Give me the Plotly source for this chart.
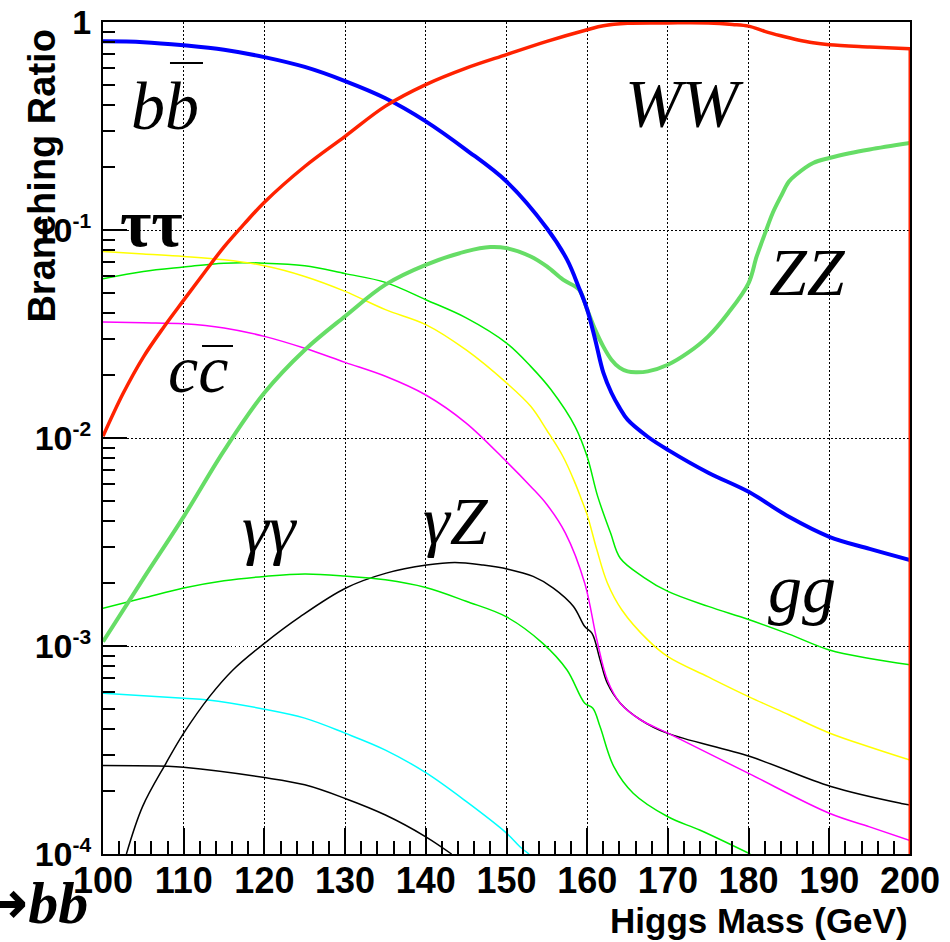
import plotly.graph_objects as go

# Higgs boson branching ratios versus mass (GeV)
mass_bb = [100, 105, 110, 115, 120, 125, 130, 135, 140, 145, 150, 155, 157.5, 159, 160, 161, 162, 163, 164, 165, 167.5, 170, 175, 180, 185, 190, 195, 200]
br_bb = [0.807, 0.80, 0.773, 0.736, 0.678, 0.608, 0.52, 0.43, 0.333, 0.243, 0.171, 0.102, 0.072, 0.0525, 0.0414, 0.0296, 0.0206, 0.0165, 0.0140, 0.01225, 0.01014, 0.00877, 0.00681, 0.00551, 0.00418, 0.00335, 0.00293, 0.00259]

mass_ww = [100, 102.5, 105, 107.5, 110, 112.5, 115, 117.5, 120, 125, 130, 135, 140, 145, 150, 155, 160, 162, 165, 170, 175, 178, 180, 182, 184, 186, 188, 190, 195, 200]
br_ww = [0.0102, 0.0164, 0.0245, 0.034, 0.046, 0.062, 0.083, 0.107, 0.136, 0.202, 0.282, 0.394, 0.50, 0.60, 0.697, 0.807, 0.918, 0.96, 0.986, 0.99, 0.989, 0.973, 0.955, 0.902, 0.859, 0.822, 0.794, 0.778, 0.759, 0.743]

mass_zz = [100, 105, 110, 115, 120, 125, 130, 135, 140, 145, 148, 150, 153, 155, 157, 159, 160, 161, 162, 163, 164, 165, 166, 167.5, 170, 172.5, 175, 177.5, 180, 181, 182, 183, 184, 185, 186, 188, 190, 192.5, 195, 200]
br_zz = [0.00105, 0.00211, 0.00419, 0.0087, 0.0165, 0.0265, 0.0385, 0.0546, 0.068, 0.0789, 0.0828, 0.0818, 0.0746, 0.0668, 0.0577, 0.0516, 0.0414, 0.0331, 0.0275, 0.0238, 0.0218, 0.0209, 0.0207, 0.0209, 0.0225, 0.0257, 0.0308, 0.040, 0.0556, 0.0746, 0.0955, 0.121, 0.145, 0.171, 0.186, 0.210, 0.222, 0.234, 0.244, 0.262]

mass_tautau = [100, 105, 110, 115, 120, 125, 130, 135, 140, 145, 150, 153, 155, 157, 158.5, 159.3, 160, 161.2, 162.5, 164.3, 167.5, 170, 175, 180, 185, 190, 195, 200]
br_tautau = [0.0789, 0.0767, 0.0746, 0.0719, 0.0673, 0.0598, 0.0507, 0.0414, 0.0351, 0.0265, 0.0184, 0.0142, 0.0109, 0.00815, 0.00607, 0.00505, 0.00427, 0.0029, 0.00201, 0.00149, 0.00107, 0.000889, 0.00071, 0.000571, 0.000467, 0.000382, 0.000327, 0.000283]

mass_cc = [100, 105, 110, 115, 120, 125, 130, 135, 140, 145, 150, 153, 155, 157.3, 159.7, 161.2, 162.5, 164.1, 166.6, 170, 180, 190, 195, 200]
br_cc = [0.0361, 0.0358, 0.0354, 0.0338, 0.0308, 0.0270, 0.0231, 0.0198, 0.0161, 0.0118, 0.0077, 0.00585, 0.00479, 0.00349, 0.0020, 0.00107, 0.000687, 0.000531, 0.000442, 0.000381, 0.000244, 0.000157, 0.000135, 0.000116]

mass_gg = [100, 105, 110, 115, 120, 125, 130, 135, 140, 145, 150, 153, 155.5, 158.5, 160, 161.3, 162.9, 164.1, 167, 170, 175, 180, 185, 190, 195, 200]
br_gg = [0.0583, 0.0632, 0.0664, 0.0693, 0.0693, 0.0673, 0.0617, 0.0560, 0.0462, 0.0378, 0.0286, 0.0221, 0.0171, 0.01135, 0.00813, 0.00524, 0.00349, 0.00264, 0.00214, 0.00183, 0.00155, 0.00134, 0.00114, 0.000957, 0.000871, 0.000813]

mass_gamgam = [100, 105, 110, 115, 120, 125, 130, 135, 140, 145, 150, 154.5, 157.5, 159.7, 160.7, 161.6, 163.3, 165.7, 170, 174, 180.2]
br_gamgam = [0.00152, 0.0017, 0.0019, 0.00206, 0.00216, 0.00222, 0.00217, 0.00208, 0.00191, 0.00164, 0.00138, 0.00103, 0.000767, 0.000531, 0.000502, 0.000409, 0.000263, 0.000196, 0.000151, 0.00013, 0.0001]

mass_gamz = [102.9, 104.9, 107.8, 110, 113.2, 116.1, 120, 124.4, 130.1, 135.1, 140.1, 143.6, 147.1, 150.2, 153.3, 155.8, 158.3, 159.7, 160.6, 161.6, 162.5, 164.1, 166.6, 169.9, 180.2, 190.2, 198.9, 200]
br_gamz = [0.0001, 0.000169, 0.000273, 0.000381, 0.000571, 0.000767, 0.00103, 0.00138, 0.0019, 0.00224, 0.00245, 0.00252, 0.00245, 0.00234, 0.00216, 0.0019, 0.00155, 0.00124, 0.00115, 0.000857, 0.000662, 0.000531, 0.000442, 0.000381, 0.000294, 0.000211, 0.000175, 0.000172]

mass_mumu = [100, 110, 113, 120, 125, 130, 135, 140, 145, 150, 151.7, 152.8]
br_mumu = [0.000593, 0.000561, 0.00055, 0.000497, 0.00045, 0.000381, 0.000316, 0.000246, 0.000179, 0.000126, 0.000108, 0.0001]

mass_ss = [100, 108, 110, 120, 125, 130, 135, 140, 143.2]
br_ss = [0.000266, 0.000264, 0.000261, 0.000233, 0.000215, 0.000185, 0.000154, 0.000121, 0.0001]

y_tick_vals = [1e-4, 1e-3, 1e-2, 1e-1, 1]
y_tick_exp = ["-4", "-3", "-2", "-1", None]
y_tick_text = ["1" if e is None else "10<sup><span style='font-size:21px'>" + e + "</span></sup>"
               for e in y_tick_exp]
BR_MIN = 1e-4

fig = go.Figure()


def curve(m, br, color, width, shape="spline"):
    fig.add_trace(go.Scatter(x=m, y=br, mode="lines",
                             line=dict(color=color, width=width, shape=shape, smoothing=1.0),
                             hoverinfo="skip", showlegend=False))


# thin channels first, dominant channels on top
curve(mass_ss, br_ss, "black", 1.5)
curve(mass_mumu, br_mumu, "#00ffff", 1.5)
curve(mass_gamz, br_gamz, "black", 1.5)
curve(mass_gamgam, br_gamgam, "#00ee00", 1.5)
curve(mass_gg, br_gg, "#00ee00", 1.5)
curve(mass_cc, br_cc, "#ff00ff", 1.5)
curve(mass_tautau, br_tautau, "#ffff00", 1.5)
curve(mass_zz, br_zz, "#66dd66", 4)
curve(mass_bb, br_bb, "#0000ff", 4)
curve(mass_ww, br_ww, "#ff2200", 3.5)
# WW histogram closes down to the axis floor at the last bin edge
curve([mass_ww[-1], mass_ww[-1]], [br_ww[-1], BR_MIN], "#ff2200", 3, shape="linear")

grid_dash = "1.5px,2.5px"

fig.update_xaxes(
    range=[100, 200], tick0=100, dtick=10, automargin=False,
    ticks="inside", ticklen=26, tickwidth=1.5, tickcolor="black",
    showline=True, linecolor="black", linewidth=2, mirror=True,
    showgrid=True, gridcolor="black", griddash=grid_dash, gridwidth=1,
    zeroline=False, ticklabelstandoff=-6,
    tickfont=dict(family="Liberation Sans", size=36, color="black", weight="bold"),
    minor=dict(ticks="inside", ticklen=13, dtick=2, tickcolor="black", tickwidth=1.5, showgrid=False),
)
fig.update_yaxes(
    type="log", range=[-4, 0], automargin=False,
    tickvals=y_tick_vals, ticktext=y_tick_text,
    ticks="inside", ticklen=24, tickwidth=1.5, tickcolor="black",
    showline=True, linecolor="black", linewidth=2, mirror=True,
    showgrid=True, gridcolor="black", griddash=grid_dash, gridwidth=1,
    zeroline=False, ticklabelstandoff=3,
    tickfont=dict(family="Liberation Sans", size=34, color="black", weight="bold"),
    minor=dict(ticks="inside", ticklen=12, dtick="D1", tickcolor="black", tickwidth=1.5, showgrid=False),
)

serif = "Liberation Serif"
label_text = ["<i>bb</i>", "<i>WW</i>", "<b>ττ</b>", "<i>ZZ</i>", "<i>cc</i>", "<i>γγ</i>", "<i>γZ</i>", "<i>gg</i>"]
label_pos = [(0.0768, 0.899), (0.720, 0.903), (0.0607, 0.759), (0.8736, 0.700),
             (0.1177, 0.583), (0.2069, 0.391), (0.4374, 0.400), (0.8662, 0.319)]

annotations = []
for t, (px, py) in zip(label_text, label_pos):
    annotations.append(dict(text=t, x=px, y=py, xref="paper", yref="paper",
                            xanchor="center", yanchor="middle", showarrow=False,
                            font=dict(family=serif, size=68, color="black")))

annotations.append(dict(text="Branching Ratio", x=-0.076, y=0.815, xref="paper", yref="paper",
                        xanchor="center", yanchor="middle", textangle=-90, showarrow=False,
                        font=dict(family="Liberation Sans", size=38, color="black", weight="bold")))
annotations.append(dict(text="Higgs Mass (GeV)", x=1.0, y=-0.080, xref="paper", yref="paper",
                        xanchor="right", yanchor="middle", showarrow=False,
                        font=dict(family="Liberation Sans", size=35, color="black", weight="bold")))
annotations.append(dict(text="<span style='font-family:DejaVu Sans'>→</span><i>bb</i>",
                        x=-0.016, y=-0.058, xref="paper", yref="paper",
                        xanchor="right", yanchor="middle", showarrow=False,
                        font=dict(family=serif, size=60, color="black", weight="bold")))

# bars over the antiquark symbols
overlines = [(0.0830, 0.1239, 0.9507), (0.1227, 0.1611, 0.6106)]
shapes = [dict(type="line", xref="paper", yref="paper", x0=a, x1=b, y0=y, y1=y,
               line=dict(color="black", width=2)) for a, b, y in overlines]

fig.update_layout(
    width=950, height=942,
    margin=dict(l=103, r=40, t=22, b=88),
    paper_bgcolor="white", plot_bgcolor="white",
    annotations=annotations, shapes=shapes,
)

fig.write_html("out.html")
